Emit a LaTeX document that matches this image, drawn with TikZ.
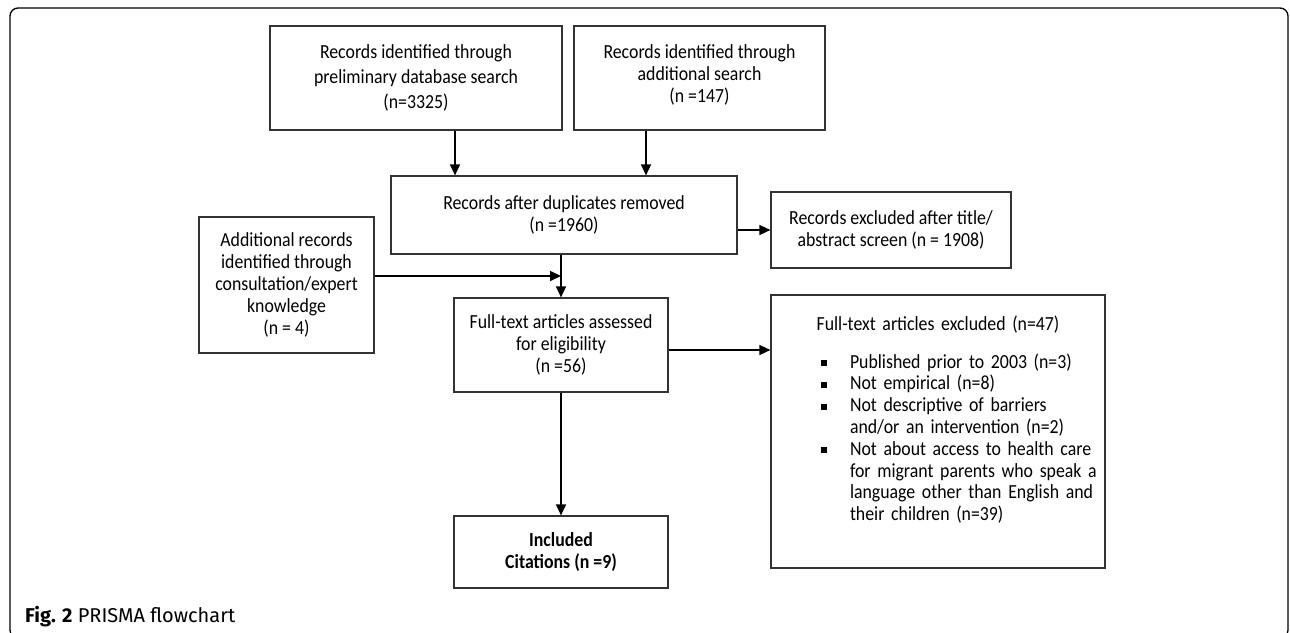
\documentclass[tikz,border=0pt]{standalone}
\usepackage{fontspec}
\setmainfont{Carlito}[FakeStretch=0.89]
\newfontfamily\capfont{Fira Sans}
\usepackage{tikz}
\usetikzlibrary{arrows.meta, positioning, calc}
\newcommand{\recfont}[1]{\fontsize{20}{#1}\selectfont\spaceskip=4pt plus 2pt minus 1pt\relax}
\tikzstyle{record} = [rectangle, draw=black!80, line width=1.2pt, align=center, inner sep=0pt, font=\recfont{22}]
\tikzstyle{exclbox} = [rectangle, draw=black!80, line width=1.2pt, inner sep=0pt, text width=334pt, minimum width=334pt, minimum height=273pt, font=\recfont{21.8}]
\tikzstyle{arrow} = [line width=1.6pt, -{Triangle[length=11pt,width=10pt]}]
\newcommand{\exitem}[1]{\par\noindent\makebox[29pt][l]{\rule[2pt]{6pt}{6pt}}\mbox{#1}}
\newcommand{\exmore}[1]{\par\noindent\hspace*{29pt}\mbox{#1}}

\begin{document}
\begin{tikzpicture}[x=1pt, y=-1pt]
      \useasboundingbox (0,0) rectangle (1290,632);

      % Frame
      \draw[line width=1.3pt, rounded corners=8pt] (10,8) rectangle (1288,638);

      % Identification
      \node[record, minimum width=292pt, minimum height=104pt, font=\recfont{25}] (dbsearch) at (416,78) {Records identified through\\ preliminary database search\\ (n=3325)};
      \node[record, minimum width=251pt, minimum height=104pt] (addsearch) at (699.5,78) {Records identified through\\ additional search\\ (n =147)\\[-14pt]};

      % Screening
      \node[record, minimum width=346pt, minimum height=78pt] (dedup) at (564,215) {Records after duplicates removed\\ (n =1960)};
      \node[record, minimum width=240pt, minimum height=76pt] (screenexcl) at (891,230) {Records excluded after title/\\ abstract screen (n = 1908)};
      \node[record, minimum width=175pt, minimum height=136pt] (expert) at (286.5,285) {Additional records\\ identified through\\ consultation/expert\\ knowledge\\ (n = 4)};

      % Eligibility
      \node[record, minimum width=214pt, minimum height=94pt] (fulltext) at (561,345) {Full-text articles assessed\\ for eligibility\\ (n =56)};
      \node[exclbox] (ftexcl) at (938,431.5) {%
        \centering Full-text articles excluded (n=47)\par
        \vspace{16pt}
        \raggedright\leftskip=50pt
        \exitem{Published prior to 2003 (n=3)}
        \exitem{Not empirical (n=8)}
        \exitem{Not descriptive of barriers}
        \exmore{and/or an intervention (n=2)}
        \exitem{Not about access to health care}
        \exmore{for migrant parents who speak a}
        \exmore{language other than English and}
        \exmore{their children (n=39)}
        \par\vspace{24pt}\hrule height 0pt};

      % Included
      \node[record, minimum width=214pt, minimum height=72pt, font=\recfont{22}\bfseries] (included) at (561,552) {Included\\ Citations (n =9)};

      % Arrows
      \draw[arrow] ([xshift=39pt]dbsearch.south) -- ([xshift=39pt]dbsearch.south |- dedup.north);
      \draw[arrow] ([xshift=-53.5pt]addsearch.south) -- ([xshift=-53.5pt]addsearch.south |- dedup.north);
      \draw[arrow] (dedup.east |- screenexcl.west) -- (screenexcl.west);
      \draw[arrow] (dedup.south -| fulltext.north) -- (fulltext.north);
      \draw[arrow] ([yshift=9pt]expert.east) -- ([yshift=9pt]expert.east -| fulltext.north);
      \draw[arrow] ([yshift=-5pt]fulltext.east) -- ([yshift=-5pt]fulltext.east -| ftexcl.west);
      \draw[arrow] (fulltext.south) -- (included.north);

      % Caption
      \node[anchor=base west, inner sep=0pt, font=\capfont\fontsize{20}{22}\selectfont] (caption) at (25,622) {\textbf{Fig. 2} PRISMA flowchart};
\end{tikzpicture}
\end{document}
